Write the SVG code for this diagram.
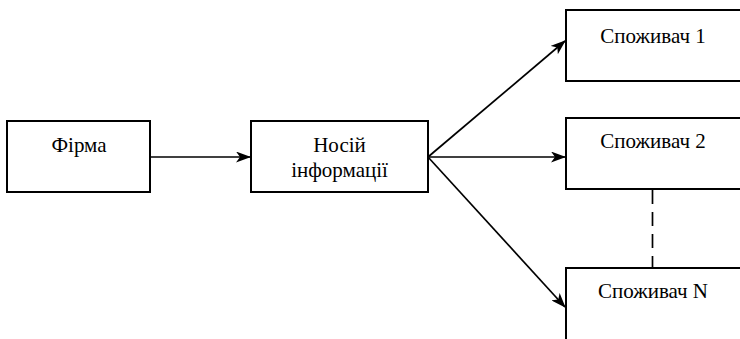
<svg xmlns="http://www.w3.org/2000/svg" width="740" height="339" viewBox="0 0 740 339">
<style>
.box{fill:#fff;stroke:#000;stroke-width:2}
.lbl{font-family:"Liberation Serif","DejaVu Serif",serif;font-size:21px;fill:#000;text-anchor:middle}
.conn{stroke:#000;stroke-width:1.7;fill:none}
</style>
<defs>
<marker id="arr" viewBox="0 0 15 11" refX="14" refY="5.5" markerWidth="15" markerHeight="11" markerUnits="userSpaceOnUse" orient="auto">
<path d="M0,0 L15,5.5 L0,11 L4,5.5 Z" fill="#000"/>
</marker>
</defs>
<rect width="740" height="339" fill="#fff"/>
<g id="connectors">
<line class="conn" x1="150" y1="157" x2="250" y2="157" marker-end="url(#arr)"/>
<line class="conn" x1="428" y1="157" x2="565" y2="41" marker-end="url(#arr)"/>
<line class="conn" x1="428" y1="157" x2="565" y2="157" marker-end="url(#arr)"/>
<line class="conn" x1="428" y1="157" x2="565" y2="307" marker-end="url(#arr)"/>
<line class="conn" x1="652.5" y1="190" x2="652.5" y2="268" stroke-dasharray="14 8"/>
</g>
<g id="firma">
<rect class="box" x="7" y="121" width="143" height="71"/>
<text class="lbl" x="79" y="152">Фірма</text>
</g>
<g id="nosiy">
<rect class="box" x="251" y="121" width="177" height="71"/>
<text class="lbl" x="339.5" y="152">Носій</text>
<text class="lbl" x="339.5" y="177">інформації</text>
</g>
<g id="spozhyvach1">
<rect class="box" x="566" y="10" width="190" height="71"/>
<text class="lbl" x="653" y="43">Споживач 1</text>
</g>
<g id="spozhyvach2">
<rect class="box" x="566" y="118" width="190" height="71"/>
<text class="lbl" x="653" y="148">Споживач 2</text>
</g>
<g id="spozhyvachN">
<rect class="box" x="566" y="268" width="190" height="80"/>
<text class="lbl" x="653" y="298">Споживач N</text>
</g>
</svg>
